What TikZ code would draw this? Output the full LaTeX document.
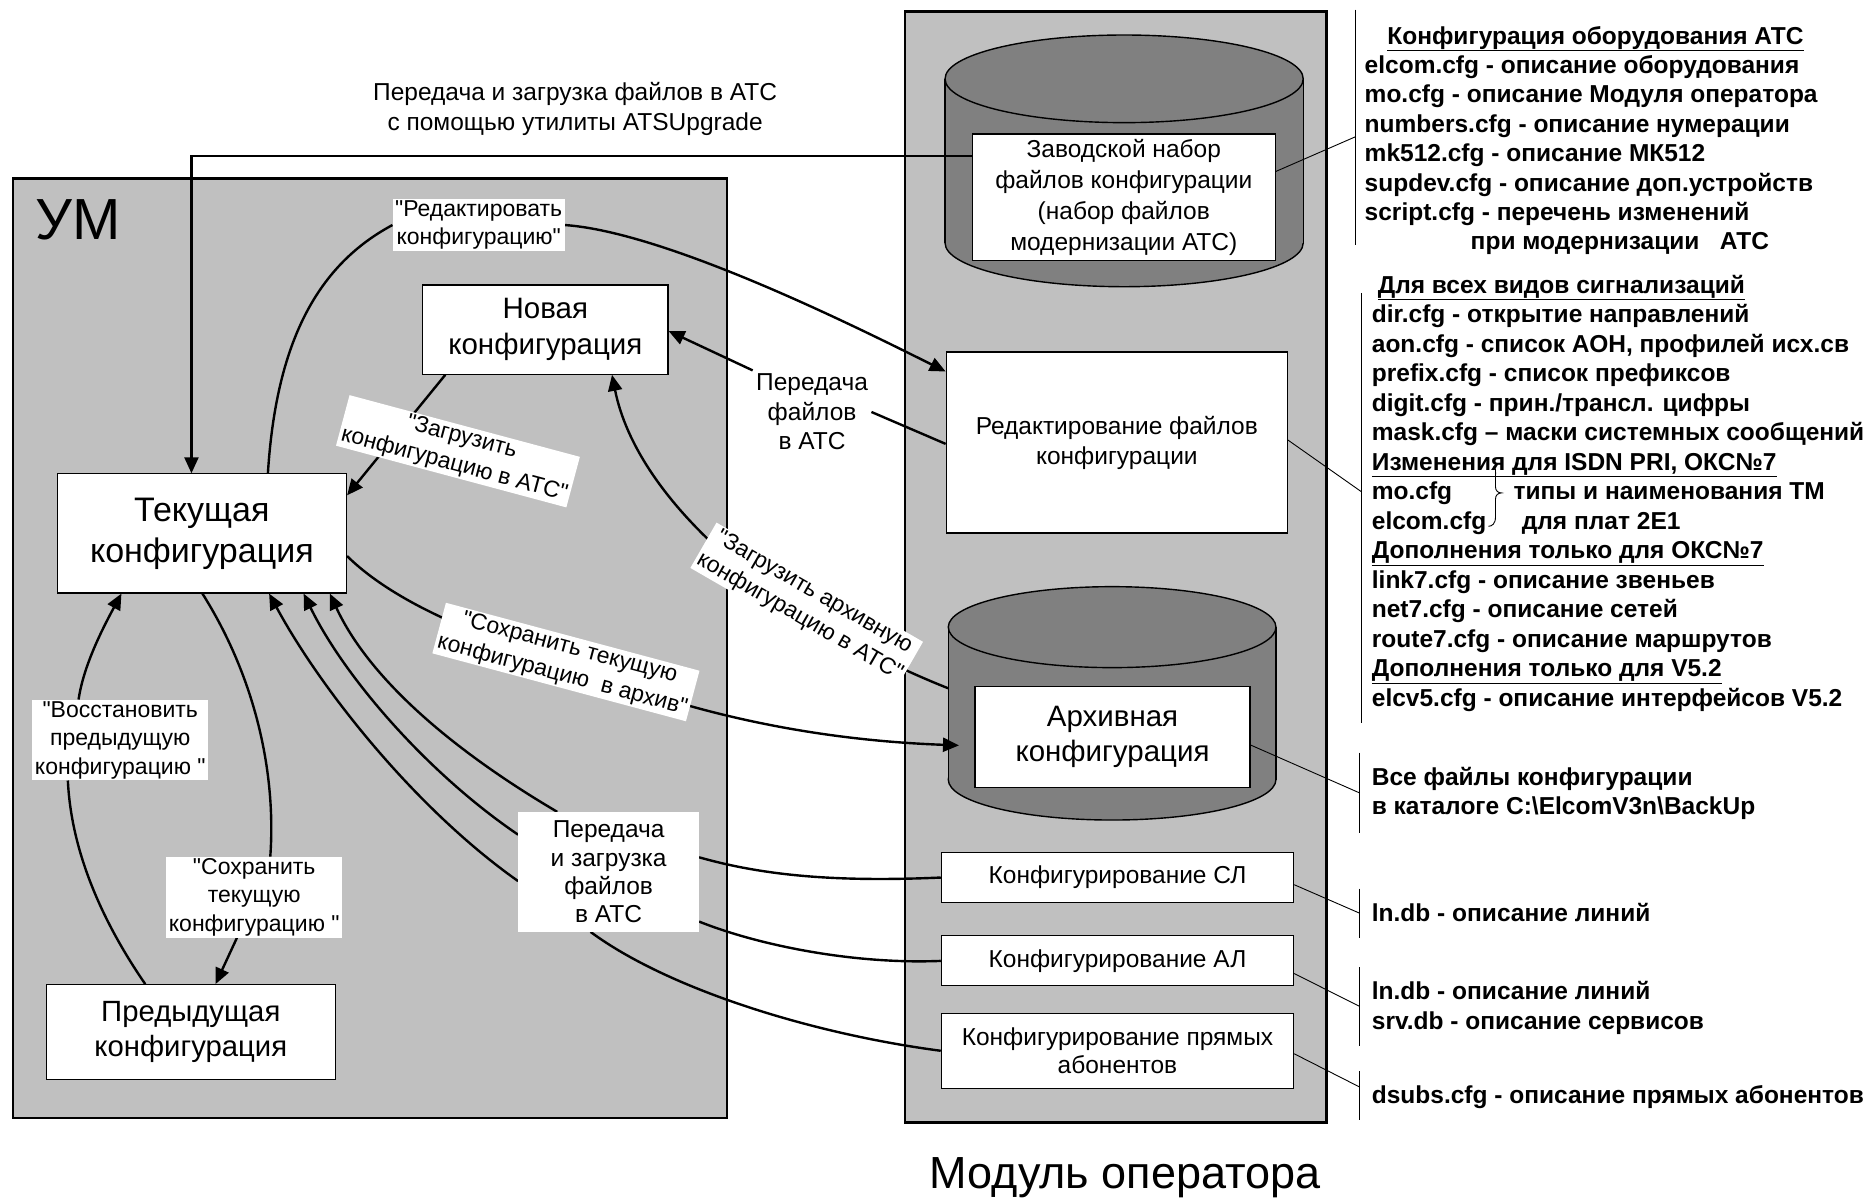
\documentclass[tikz,border=0pt]{standalone}
\usepackage{fontspec}
\setmainfont{Liberation Sans}[Ligatures=TeXOff]
\usetikzlibrary{arrows.meta,calc,fit}
\pgfdeclarelayer{back}
\pgfdeclarelayer{wires}
\pgfsetlayers{back,wires,main}

\newcommand\fsz[2]{\fontsize{#1}{#2}\selectfont}

\definecolor{panel}{RGB}{192,192,192}
\definecolor{drum}{RGB}{128,128,128}

\tikzset{
  every node/.style={font=\fsz{24.5}{29.5}, align=center},
  panelbox/.style={draw, line width=2.6pt, fill=panel},
  drumline/.style={draw, line width=1.4pt, fill=drum},
  drumedge/.style={line width=1.4pt},
  box/.style={draw, line width=1.2pt, fill=white, inner sep=0pt},
  plainbox/.style={fill=white, inner sep=0pt},
  tag/.style={fill=white, font=\fsz{23}{28.5}, inner xsep=2.5pt, inner ysep=1.5pt},
  conn/.style={line width=2.4pt},
  arr/.style={conn, -{Triangle[length=16pt,width=14pt]}},
  note/.style={line width=0.9pt},
  notes/.style={font=\bfseries\fsz{24.5}{29.4}, align=left, anchor=base west, inner sep=0pt},
}

% rectangle node spanning the corners (#2,#3) and (#4,#5), in picture units
\newcommand\rectnode[7]{%
  \pgfmathsetmacro\rnw{(#4-#2)*1.1907}%
  \pgfmathsetmacro\rnh{(#5-#3)*1.1907}%
  \node[#6, minimum width=\rnw pt, minimum height=\rnh pt] (#1) at ({(#2+#4)/2},{(#3+#5)/2}) {#7};}

\begin{document}
\begin{tikzpicture}[x=1.1907pt, y=-1.1907pt]
\useasboundingbox (0,0) rectangle (1568,1006);

\begin{pgfonlayer}{back}
  \fill[white] (0,0) rectangle (1568,1006);
  % the two panels
  \draw[panelbox] (11,150) rectangle (610.5,939);
  \draw[panelbox] (760,9.6) rectangle (1114,942.6);
  % factory drum
  \filldraw[drumline] (944.1,204) ellipse [x radius=150.4, y radius=36.8];
  \fill[drum] (793.7,66.2) rectangle (1094.5,204);
  \draw[drumedge] (793.7,66.2) -- (793.7,204) (1094.5,66.2) -- (1094.5,204);
  \filldraw[drumline] (944.1,66.2) ellipse [x radius=150.4, y radius=36.8];
  % archive drum
  \filldraw[drumline] (934,654.7) ellipse [x radius=137.6, y radius=34];
  \fill[drum] (796.4,526.7) rectangle (1071.6,654.7);
  \draw[drumedge] (796.4,526.7) -- (796.4,654.7) (1071.6,526.7) -- (1071.6,654.7);
  \filldraw[drumline] (934,526.7) ellipse [x radius=137.6, y radius=34];
\end{pgfonlayer}

\node[fit={(793.7,29.4)(1094.5,240.8)}, inner sep=0pt] (facdrum) {};
\node[fit={(796.4,492.7)(1071.6,688.7)}, inner sep=0pt] (arcyl) {};

% panel titles
\node[anchor=west, inner sep=0pt, font=\fsz{58}{62}] (umtitle) at (30,185) {УМ};
\node[font=\fsz{45}{50}] (motitle) at (945,989) {Модуль оператора};
\node[font=\fsz{24.5}{30.7}] (topnote) at (483,91.6) {Передача и загрузка файлов в АТС\\с помощью утилиты ATSUpgrade};

% operator module boxes
\rectnode{fact}{816.6}{112.5}{1071}{219}{box, font=\fsz{24.5}{31}}{Заводской набор\\файлов конфигурации\\(набор файлов\\модернизации АТС)}
\rectnode{edit}{794.7}{295.7}{1081.2}{447.7}{box, font=\fsz{24.5}{30}}{Редактирование файлов\\конфигурации}
\rectnode{arch}{818.9}{576.7}{1049.8}{661.5}{box, font=\fsz{29.5}{35}}{Архивная\\конфигурация}
\rectnode{sl}{790.6}{716}{1086.4}{758}{box}{Конфигурирование СЛ}
\rectnode{al}{790.6}{786}{1086.4}{828}{box}{Конфигурирование АЛ}
\rectnode{pr}{790.6}{851}{1086.4}{914}{box, font=\fsz{24.5}{28}}{Конфигурирование прямых\\абонентов}

% UM boxes
\rectnode{new}{355}{239.4}{561}{314.3}{box, font=\fsz{29.5}{36}}{Новая\\конфигурация}
\rectnode{cur}{48}{398}{291}{498}{box, font=\fsz{34}{41}}{Текущая\\конфигурация}
\rectnode{prev}{39}{827}{281.5}{906.8}{box, font=\fsz{29.3}{35}}{Предыдущая\\конфигурация}

% connector labels
\node[tag] (edl) at (402,189) {"Редактировать\\конфигурацию"};
\node[tag, rotate=-15] (ld1) at (384.6,379) {"Загрузить\\конфигурацию в АТС"};
\node[tag, rotate=-30] (ld2) at (677.5,508) {"Загрузить архивную\\конфигурацию в АТС"};
\node[tag, rotate=-15] (sva) at (475.3,556) {"Сохранить текущую\\конфигурацию\ \ в архив"};
\node[tag] (rst) at (101,621.5) {"Восстановить\\предыдущую\\конфигурацию "};
\node[tag] (svc) at (213.5,753.5) {"Сохранить\\текущую\\конфигурацию "};
\rectnode{trn}{435.3}{682}{587}{782.5}{plainbox, font=\fsz{24.5}{28.3}}{Передача\\и загрузка\\файлов\\в АТС}
\node (pf) at (682,346) {Передача\\файлов\\в АТС};

% file lists (each node is placed by the baseline of its last line)
\node[notes] (list1) at (1146,209.8) {\hspace*{22.6pt}\underline{Конфигурация оборудования АТС}\\
elcom.cfg - описание оборудования\\
mo.cfg - описание Модуля оператора\\
numbers.cfg - описание нумерации\\
mk512.cfg - описание МК512\\
supdev.cfg - описание доп.устройств\\
script.cfg - перечень изменений\\
\hspace*{106pt}при модернизации\ \ \ АТС};
\node[notes, font=\bfseries\fsz{24.5}{29.5}] (list2) at (1152,593) {\hspace*{6pt}\underline{Для всех видов сигнализаций}\\
dir.cfg - открытие направлений\\
aon.cfg - список АОН, профилей исх.св\\
prefix.cfg - список префиксов\\
digit.cfg - прин./трансл. цифры\\
mask.cfg – маски системных сообщений\\
\underline{Изменения для ISDN PRI, ОКС№7}\\
\makebox[141.7pt][l]{mo.cfg}типы и наименования ТМ\\
\makebox[150pt][l]{elcom.cfg}для плат 2Е1\\
\underline{Дополнения только для ОКС№7}\\
link7.cfg - описание звеньев\\
net7.cfg - описание сетей\\
route7.cfg - описание маршрутов\\
\underline{Дополнения только для V5.2}\\
elcv5.cfg - описание интерфейсов V5.2};
\node[notes] (list3) at (1152,684) {Все файлы конфигурации\\в каталоге C:\textbackslash ElcomV3n\textbackslash BackUp};
\node[notes] (list4) at (1152,773.8) {ln.db - описание линий};
\node[notes] (list5) at (1152,864.2) {ln.db - описание линий\\srv.db - описание сервисов};
\node[notes] (list6) at (1152,926.5) {dsubs.cfg - описание прямых абонентов};

% list brackets
\coordinate (g1t) at (1138.5,8);     \coordinate (g1b) at (1138.5,205.7);
\coordinate (g2t) at (1143.4,246);   \coordinate (g2b) at (1143.4,607.6);
\coordinate (g3t) at (1142,632);     \coordinate (g3b) at (1142,699.6);
\coordinate (g4t) at (1142,746.4);   \coordinate (g4b) at (1142,788);
\coordinate (g5t) at (1142,812.4);   \coordinate (g5b) at (1142,878.3);
\coordinate (g6t) at (1142,899.8);   \coordinate (g6b) at (1142,940.8);

\begin{pgfonlayer}{wires}
  \foreach \g in {1,...,6} \draw[note] (g\g t) -- (g\g b);
  % brace joining mo.cfg and elcom.cfg
  \draw[note] (1254,392) .. controls (1256.5,392) and (1256,396) .. (1256,400)
    -- (1256,409) .. controls (1256,412) and (1258,414) .. (1261,414)
    .. controls (1258,414) and (1256,416) .. (1256,419)
    -- (1256,434) .. controls (1256,440) and (1253,442) .. (1250,442);
  % leaders to the file lists
  \draw[note] (fact.east |- 0,144) -- (g1t |- 0,114.8);
  \draw[note] (edit.east |- 0,369.6) -- (g2t |- 0,413);
  \draw[note] (arch.east |- 0,625.7) -- (g3t |- 0,666);
  \draw[note] (sl.east |- 0,743) -- (g4t |- 0,767);
  \draw[note] (al.east |- 0,817.6) -- (g5t |- 0,845.3);
  \draw[note] (pr.east |- 0,885) -- (g6t |- 0,913);

  % ATSUpgrade transfer
  \draw[arr] (fact.west |- 0,130.8) -| (cur.north -| 160.8,0);
  % edit configuration
  \draw[conn] (cur.north -| 225,0) .. controls (232,285) and (268,222) .. (edl.west);
  \draw[arr] (edl.east) .. controls (560,195) and (720,275) .. (edit.west |- 0,312);
  % load new configuration
  \draw[arr] (new.south -| 374,0) -- (cur.east |- 0,416);
  % file transfer edit -> new
  \draw[conn] (edit.west |- 0,372.8) -- (pf.east);
  \draw[arr] (pf.north west) -- (new.east |- 0,278);
  % load archive configuration
  \draw[arr] (arcyl.west |- 0,578) .. controls (650,520) and (535,420) .. (new.south -| 514,0);
  % save current to archive
  \draw[conn] (cur.east |- 0,467) .. controls (330,505) and (400,535) .. (sva.center);
  \draw[arr] (sva.center) .. controls (530,580) and (640,620) .. ($(arch.west |- 0,626)+(-13,0)$);
  % save current -> previous
  \draw[conn] (cur.south -| 170,0) .. controls (215,570) and (232,650) .. (svc.north -| 227,0);
  \draw[arr] (svc.south -| 199,0) -- (prev.north -| 181,0);
  % restore previous
  \draw[conn] (prev.north -| 122,0) .. controls (90,780) and (60,720) .. (rst.south -| 57,0);
  \draw[arr] (rst.north -| 66,0) .. controls (70,560) and (85,530) .. (cur.south -| 102,0);
  % line and subscriber configuration transfers
  \draw[arr] (trn.north -| 468,0) .. controls (380,630) and (310,570) .. (cur.south -| 277,0);
  \draw[arr] (trn.west |- 0,701) .. controls (360,650) and (290,570) .. (cur.south -| 255,0);
  \draw[arr] (trn.west |- 0,740) .. controls (350,680) and (270,580) .. (cur.south -| 226,0);
  \draw[conn] (trn.east |- 0,720) .. controls (640,735) and (700,741) .. (sl.west);
  \draw[conn] (trn.east |- 0,774) .. controls (640,795) and (720,810) .. (al.west);
  \draw[conn] (trn.south -| 496,0) .. controls (560,830) and (680,868) .. (pr.west);
\end{pgfonlayer}
\end{tikzpicture}
\end{document}
